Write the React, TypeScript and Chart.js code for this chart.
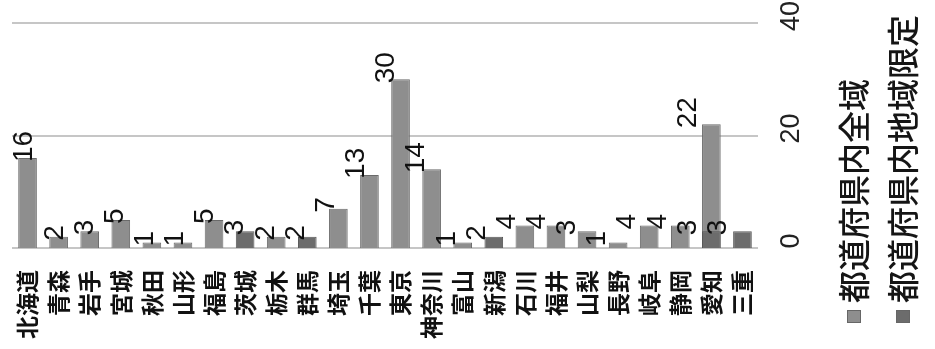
import React, { useEffect, useRef } from "react";
import { Chart, registerables } from "chart.js";

Chart.register(...registerables);

const categories = [
  "北海道", "青森", "岩手", "宮城", "秋田", "山形", "福島", "茨城", "栃木", "群馬",
  "埼玉", "千葉", "東京", "神奈川", "富山", "新潟", "石川", "福井", "山梨", "長野",
  "岐阜", "静岡", "愛知", "三重",
];

const seriesNames = ["都道府県内全域", "都道府県内地域限定"];

const zenikiValues = [16, 2, 3, 5, 1, 1, 5, 0, 2, 0, 7, 13, 30, 14, 1, 0, 4, 4, 3, 1, 4, 4, 22, 0];
const chiikiValues = [0, 0, 0, 0, 0, 0, 0, 3, 0, 2, 0, 0, 0, 0, 0, 2, 0, 0, 0, 0, 0, 0, 3, 3];

const yTickValues = [0, 20, 40];

const CJK = "'Noto Sans CJK JP', 'Noto Sans CJK SC', sans-serif";
const NUM = "'Liberation Sans', Arial, sans-serif";

const overlayPlugin = {
  id: "overlay",
  beforeDatasetsDraw(chart: any) {
    const ctx = chart.ctx;
    const ys = chart.scales.y;
    const area = chart.chartArea;
    ctx.save();
    ctx.strokeStyle = "#c6c6c6";
    ctx.lineWidth = 2;
    yTickValues.forEach((v) => {
      const py = Math.round(ys.getPixelForValue(v));
      ctx.beginPath();
      ctx.moveTo(area.left, py);
      ctx.lineTo(area.right, py);
      ctx.stroke();
    });
    ctx.restore();
  },
  afterDatasetsDraw(chart: any) {
    const ctx = chart.ctx;
    ctx.save();
    ctx.fillStyle = "#111";
    ctx.font = `28px ${NUM}`;
    ctx.textAlign = "left";
    ctx.textBaseline = "middle";
    chart.data.datasets.forEach((ds: any, di: number) => {
      const meta = chart.getDatasetMeta(di);
      meta.data.forEach((el: any, i: number) => {
        const v = ds.data[i];
        if (!v) return;
        const x = el.x - (2 + 0.03 * el.x);
        const y = el.y + 4;
        ctx.save();
        ctx.translate(x, y);
        ctx.rotate(-Math.PI / 2);
        ctx.fillText(String(v), 0, 0);
        ctx.restore();
      });
    });
    ctx.restore();
  },
  afterDraw(chart: any) {
    const ctx = chart.ctx;
    ctx.save();
    const ys = chart.scales.y;
    ctx.fillStyle = "#222";
    ctx.font = `27px ${NUM}`;
    ctx.textAlign = "center";
    ctx.textBaseline = "middle";
    yTickValues.forEach((v) => {
      const py = ys.getPixelForValue(v) - 7;
      ctx.save();
      ctx.translate(792, py);
      ctx.rotate(-Math.PI / 2);
      ctx.fillText(String(v), 0, 0);
      ctx.restore();
    });
    const xs = [854, 903];
    chart.data.datasets.forEach((ds: any, di: number) => {
      const cx = xs[di];
      ctx.fillStyle = ds.backgroundColor;
      ctx.fillRect(cx - 7, 310, 14, 13);
      ctx.strokeStyle = "#666";
      ctx.lineWidth = 1;
      ctx.strokeRect(cx - 7 + 0.5, 310.5, 13, 12);
      ctx.fillStyle = "#151515";
      ctx.font = `500 32px ${CJK}`;
      ctx.textAlign = "left";
      ctx.textBaseline = "middle";
      ctx.save();
      ctx.translate(cx, 303);
      ctx.rotate(-Math.PI / 2);
      ctx.fillText(ds.label, 0, 0);
      ctx.restore();
    });
    ctx.restore();
  },
};

export default function App() {
  const ref = useRef<HTMLCanvasElement | null>(null);
  useEffect(() => {
    if (!ref.current) return;
    const chart = new Chart(ref.current, {
      type: "bar",
      data: {
        labels: categories,
        datasets: [
          {
            label: seriesNames[0],
            data: zenikiValues,
            backgroundColor: "#8e8e8e",
            borderColor: "#6a6a6a",
            borderWidth: 1,
            order: 2,
          },
          {
            label: seriesNames[1],
            data: chiikiValues,
            backgroundColor: "#6c6c6c",
            borderColor: "#555",
            borderWidth: 1,
            order: 1,
          },
        ],
      },
      options: {
        responsive: false,
        animation: false,
        datasets: { bar: { grouped: false, categoryPercentage: 1, barPercentage: 0.6 } },
        layout: { padding: { left: 12, right: 177, top: 23, bottom: 0 } },
        plugins: { legend: { display: false }, tooltip: { enabled: false } },
        scales: {
          x: {
            ticks: {
              autoSkip: false,
              minRotation: 90,
              maxRotation: 90,
              padding: 22,
              color: "#111",
              font: { family: CJK, size: 23, weight: "bold" },
            },
            grid: { display: false, drawTicks: false },
            border: { display: false },
            afterFit: (s: any) => {
              s.height = 101;
            },
          },
          y: {
            position: "right",
            min: 0,
            max: 40,
            ticks: { display: false, stepSize: 20 },
            grid: { display: false, drawTicks: false },
            border: { display: false },
            afterFit: (s: any) => {
              s.width = 0;
            },
          },
        },
      },
      plugins: [overlayPlugin],
    });
    return () => chart.destroy();
  }, []);
  return (
    <div style={{ position: "fixed", left: 0, top: 0, width: 935, height: 349, background: "#fff" }}>
      <canvas ref={ref} width={935} height={349} style={{ width: 935, height: 349 }} />
    </div>
  );
}
